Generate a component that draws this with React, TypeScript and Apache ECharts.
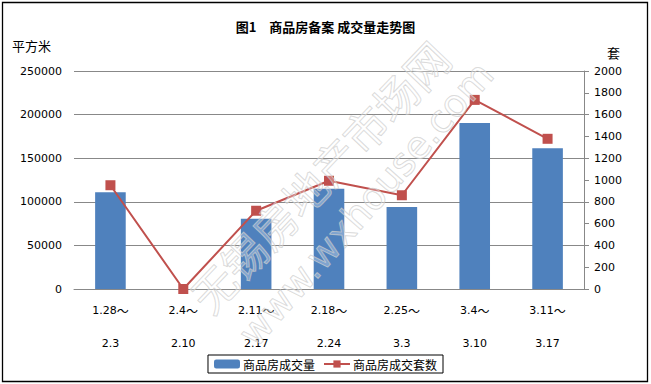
import React, { useEffect, useRef } from "react";
import * as echarts from "echarts";

const rangeStarts = ["1.28", "2.4", "2.11", "2.18", "2.25", "3.4", "3.11"];
const rangeEnds = ["2.3", "2.10", "2.17", "2.24", "3.3", "3.10", "3.17"];
const categories = rangeStarts.map((s, i) => s + "|" + rangeEnds[i]);
const areaValues = [111000, 0, 80500, 115000, 94000, 190500, 161500];
const unitValues = [952, 0, 718, 993, 860, 1735, 1378];
const seriesNames = ["商品房成交量", "商品房成交套数"];
const titleText = "图1　商品房备案 成交量走势图";
const leftUnit = "平方米";
const rightUnit = "套";

export default function App() {
  const ref = useRef<HTMLDivElement>(null);
  useEffect(() => {
    document.body.style.margin = "0";
    const chart = echarts.init(ref.current!, null, { renderer: "svg" });
    const tickFont = { fontFamily: "DejaVu Sans", fontSize: 11, color: "#000" };
    chart.setOption({
      animation: false,
      backgroundColor: "#fff",
      textStyle: { fontFamily: "Noto Sans CJK SC" },
      title: {
        text: titleText,
        left: "center",
        top: 15,
        textStyle: { fontSize: 13, fontWeight: "bold", color: "#000", fontFamily: "Noto Sans CJK SC" },
      },
      grid: { left: 74, right: 67, top: 71, bottom: 95, containLabel: false },
      legend: {
        data: seriesNames,
        top: 355,
        left: "center",
        borderColor: "#000",
        borderWidth: 1,
        borderRadius: 0,
        padding: [3, 6, 3, 6],
        itemGap: 8,
        itemWidth: 26,
        itemHeight: 9,
        textStyle: { fontSize: 12, color: "#000", fontFamily: "Noto Sans CJK SC", padding: [0, 0, 0, -2] },
      },
      xAxis: {
        type: "category",
        data: categories,
        axisLine: { show: true, lineStyle: { color: "#888", width: 1 } },
        axisTick: { show: false },
        axisLabel: {
          ...tickFont,
          lineHeight: 33,
          margin: 5,
          interval: 0,
          formatter: (v: string) => {
            const [a, b] = v.split("|");
            return "{n|" + a + "}{t|～}\n{n|" + b + "}";
          },
          rich: {
            n: { fontFamily: "DejaVu Sans", fontSize: 11, color: "#000", lineHeight: 33 },
            t: { fontFamily: "Noto Sans CJK SC", fontSize: 12, color: "#000", lineHeight: 33 },
          },
        },
      },
      yAxis: [
        {
          type: "value",
          min: 0,
          max: 250000,
          interval: 50000,
          axisLine: { show: false },
          axisTick: { show: false },
          axisLabel: { ...tickFont, margin: 12, formatter: (v: number) => String(v) },
          splitLine: { show: true, lineStyle: { color: "#888", width: 1 } },
        },
        {
          type: "value",
          min: 0,
          max: 2000,
          interval: 200,
          position: "right",
          axisLine: { show: true, lineStyle: { color: "#888", width: 1 } },
          axisTick: { show: true, length: 5, lineStyle: { color: "#888" } },
          axisLabel: { ...tickFont, margin: 10, formatter: (v: number) => String(v) },
          splitLine: { show: false },
        },
      ],
      series: [
        {
          name: seriesNames[0],
          type: "bar",
          data: areaValues,
          barWidth: "42%",
          itemStyle: { color: "#4F81BD" },
          yAxisIndex: 0,
        },
        {
          name: seriesNames[1],
          type: "line",
          data: unitValues,
          yAxisIndex: 1,
          symbol: "rect",
          symbolSize: 10,
          lineStyle: { color: "#C0504D", width: 2 },
          itemStyle: { color: "#C0504D" },
        },
      ],
      graphic: [
        {
          type: "text",
          left: 12,
          top: 39,
          style: { text: leftUnit, fontSize: 13, fill: "#000", fontFamily: "Noto Sans CJK SC" },
        },
        {
          type: "text",
          left: 607,
          top: 46,
          style: { text: rightUnit, fontSize: 13, fill: "#000", fontFamily: "Noto Sans CJK SC" },
        },
        {
          type: "text",
          x: 319,
          y: 176,
          rotation: 0.81,
          z: 100,
          silent: true,
          style: {
            text: "无锡房地产市场网",
            fontSize: 44,
            fontFamily: "Noto Sans CJK SC",
            align: "center",
            verticalAlign: "middle",
            fill: "rgba(255,255,255,0.3)",
            stroke: "rgba(195,195,195,0.7)",
            lineWidth: 1,
          },
        },
        {
          type: "text",
          x: 366,
          y: 204,
          rotation: 0.85,
          z: 100,
          silent: true,
          style: {
            text: "www.wxhouse.com",
            fontSize: 38,
            fontFamily: "DejaVu Sans",
            align: "center",
            verticalAlign: "middle",
            fill: "rgba(255,255,255,0.3)",
            stroke: "rgba(195,195,195,0.7)",
            lineWidth: 1,
          },
        },
        {
          type: "rect",
          shape: { x: 2.5, y: 2.5, width: 645, height: 379 },
          z: 101,
          silent: true,
          style: { fill: "none", stroke: "#000", lineWidth: 1.3 },
        },
      ],
    });
    return () => chart.dispose();
  }, []);
  return <div ref={ref} style={{ width: 651, height: 384 }} />;
}
